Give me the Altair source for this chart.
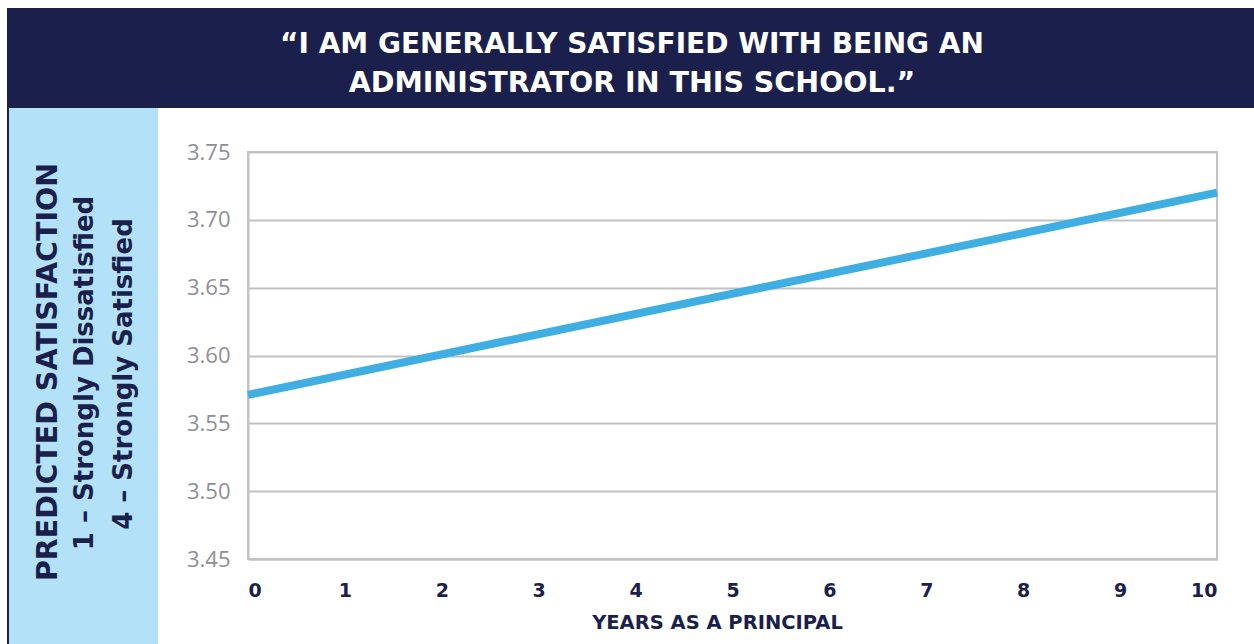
import altair as alt
import pandas as pd

# Predicted satisfaction by years as a principal
years = [0, 10]
satisfaction = [3.571, 3.720]

y_ticks = [3.45, 3.50, 3.55, 3.60, 3.65, 3.70, 3.75]
x_ticks = list(range(0, 11))

title_lines = ["\u201cI AM GENERALLY SATISFIED WITH BEING AN",
               "ADMINISTRATOR IN THIS SCHOOL.\u201d"]
y_title_lines = ["PREDICTED SATISFACTION",
                 "1 \u2013 Strongly Dissatisfied",
                 "4 \u2013 Strongly Satisfied"]
x_title = "YEARS AS A PRINCIPAL"

NAVY = "#1b1f4b"
LIGHT_BLUE = "#b3e2f8"
LINE_BLUE = "#3eaee3"
GRID = "#c2c2c6"
FONT = "Open Sans"
HEAD_FONT = "DejaVu Sans"

W, H = 969, 407
PAD = {"left": 248, "top": 152, "right": 37, "bottom": 85}

df = pd.DataFrame({"years": years, "satisfaction": satisfaction})
one = pd.DataFrame({"k": [0]})

# header band and side panel behind the chart
header = alt.Chart(one).mark_rect(color=NAVY).encode(
    x=alt.value(-241), x2=alt.value(W + PAD["right"]),
    y=alt.value(-144), y2=alt.value(-44))
side = alt.Chart(one).mark_rect(color=LIGHT_BLUE).encode(
    x=alt.value(-239), x2=alt.value(-90),
    y=alt.value(-44), y2=alt.value(H + PAD["bottom"]))
edge = alt.Chart(one).mark_rect(color=NAVY).encode(
    x=alt.value(-241), x2=alt.value(-239),
    y=alt.value(-144), y2=alt.value(H + PAD["bottom"]))


def label(text, x, y, size, color, angle=0, weight="bold", font=HEAD_FONT):
    return alt.Chart(pd.DataFrame({"t": [text]})).mark_text(
        font=font, fontSize=size, fontWeight=weight, color=color,
        align="center", baseline="alphabetic", angle=angle
    ).encode(text="t:N", x=alt.value(x), y=alt.value(y))


titles = [
    label(title_lines[0], 384, -99, 28, "white"),
    label(title_lines[1], 384, -60, 28.5, "white"),
]
side_titles = [
    label(y_title_lines[0], -191, 220, 28.5, NAVY, angle=270),
    label(y_title_lines[1], -155, 221, 26, NAVY, angle=270),
    label(y_title_lines[2], -116, 222, 26, NAVY, angle=270),
]

line = alt.Chart(df).mark_line(color=LINE_BLUE, strokeWidth=8).encode(
    x=alt.X("years:Q",
            scale=alt.Scale(domain=[0, 10], nice=False),
            axis=alt.Axis(values=x_ticks, format="d", title=x_title,
                          grid=False, ticks=False,
                          domainColor=GRID, domainWidth=2,
                          labelFont=HEAD_FONT, labelFontSize=19,
                          labelFontWeight="bold", labelColor=NAVY,
                          labelPadding=22,
                          titleFont=HEAD_FONT, titleFontSize=19.5,
                          titleFontWeight="bold", titleColor=NAVY,
                          titlePadding=13, titleX=469)),
    y=alt.Y("satisfaction:Q",
            scale=alt.Scale(domain=[3.45, 3.75], nice=False, zero=False),
            axis=alt.Axis(values=y_ticks, format=".2f", title=None,
                          ticks=False, grid=True,
                          gridColor=GRID, gridWidth=2,
                          domainColor=GRID, domainWidth=2,
                          labelFont=FONT, labelFontSize=22,
                          labelColor="#8f8f94", labelPadding=18)),
)

chart = alt.layer(header, side, edge, *titles, *side_titles, line).properties(
    width=W, height=H,
    autosize=alt.AutoSizeParams(type="none"),
    padding=PAD,
    background="white",
).configure_view(stroke=GRID, strokeWidth=2)

chart.save("out.html", embed_options={"renderer": "svg", "actions": False})
